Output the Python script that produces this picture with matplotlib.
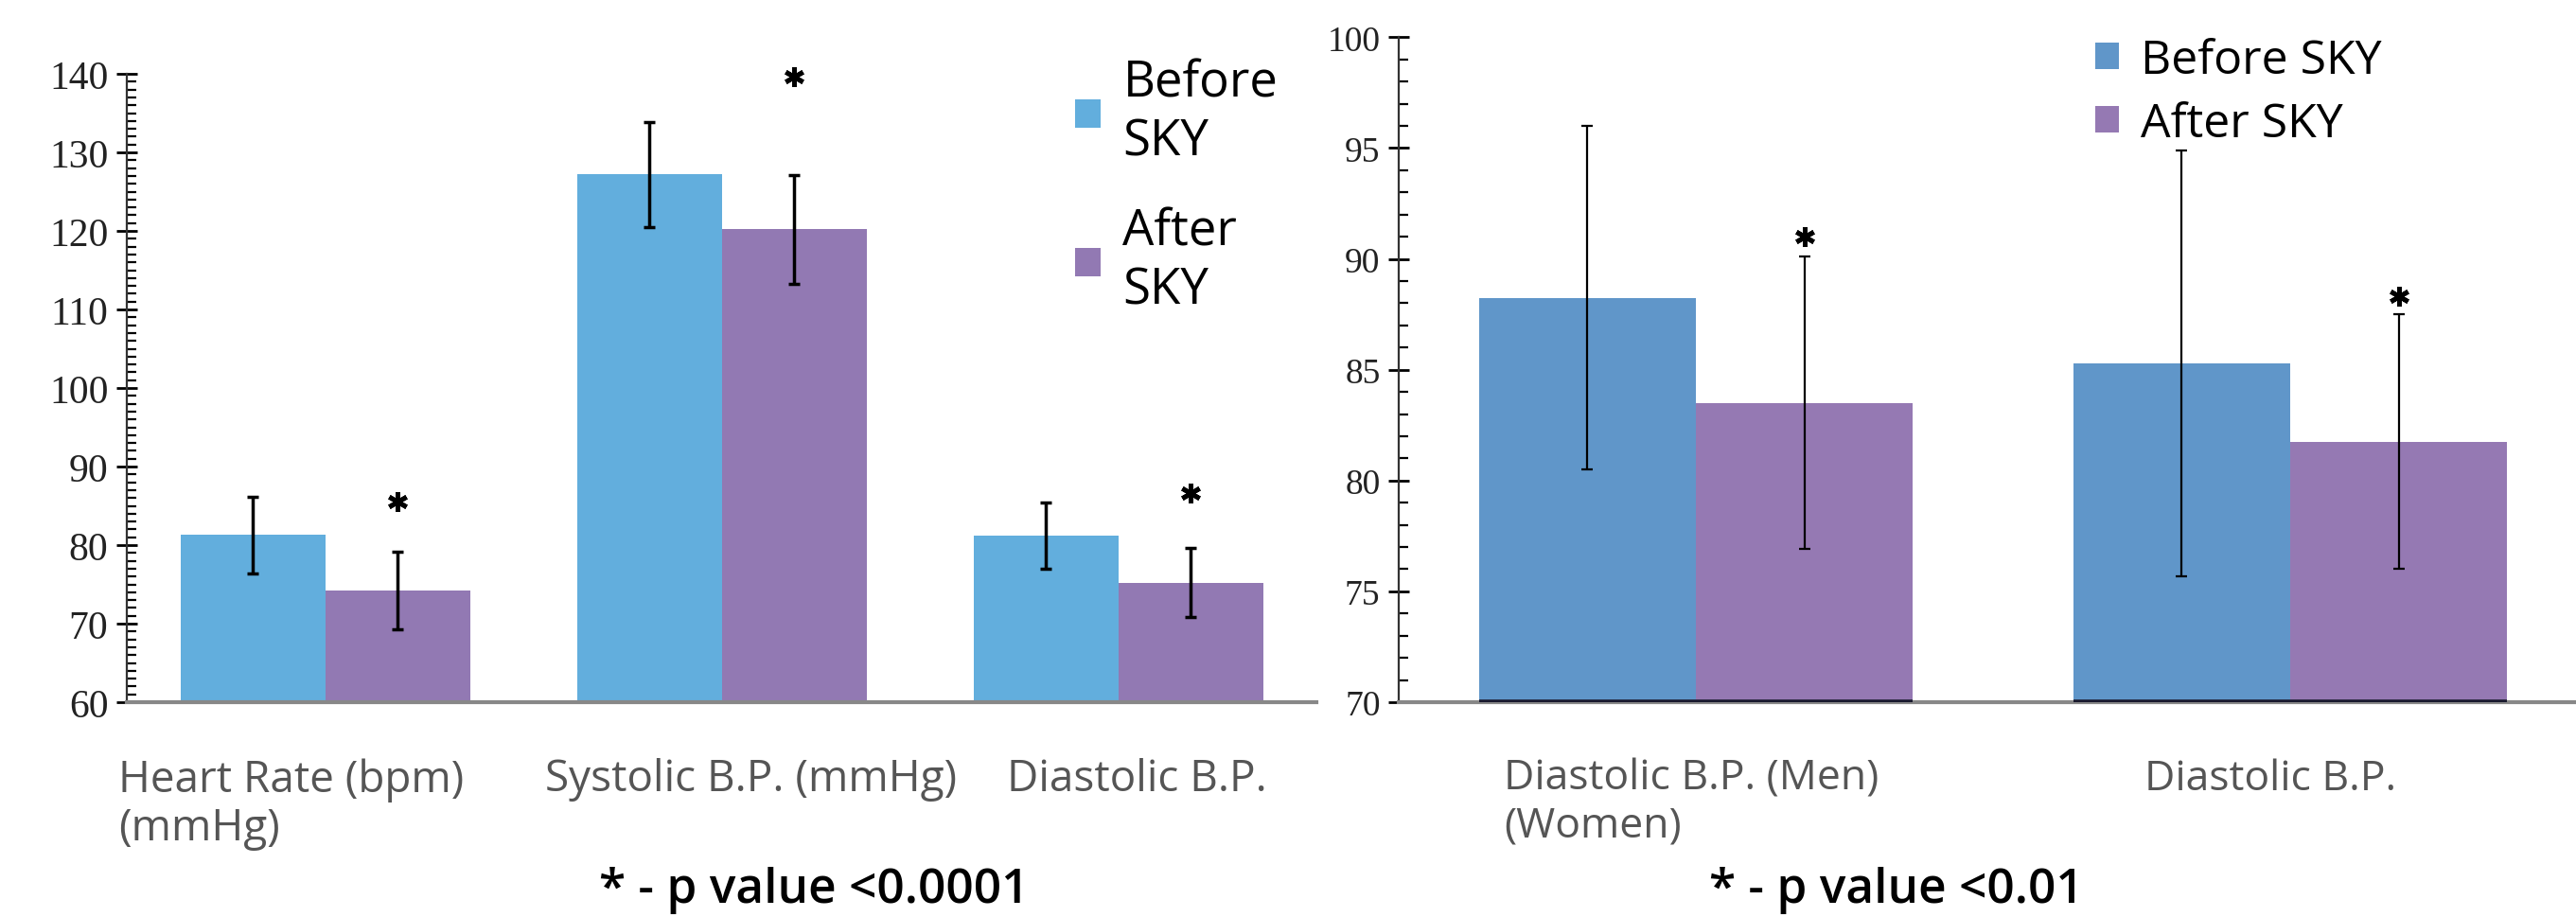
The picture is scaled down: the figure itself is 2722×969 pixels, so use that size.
import numpy as np
import matplotlib
matplotlib.use('Agg')
from matplotlib import pyplot as plt
from matplotlib.ticker import MultipleLocator
from matplotlib.transforms import ScaledTranslation, blended_transform_factory

# left panel: p < 0.0001
left_cats = ['Heart Rate (bpm)\n(mmHg)', 'Systolic B.P. (mmHg)', 'Diastolic B.P.']
left_before = [81.3, 127.2, 81.2]
left_before_err = [4.9, 6.7, 4.2]
left_after = [74.2, 120.2, 75.2]
left_after_err = [4.9, 6.9, 4.4]
left_stars = [85.6, 139.7, 86.6]

# right panel: p < 0.01
right_cats = ['Diastolic B.P. (Men)\n(Women)', 'Diastolic B.P.']
right_before = [88.25, 85.3]
right_before_err = [7.75, 9.6]
right_after = [83.5, 81.75]
right_after_err = [6.6, 5.75]
right_stars = [91.0, 88.3]

sans = ['Open Sans', 'DejaVu Sans']
serif = ['Liberation Serif', 'DejaVu Serif']

fig = plt.figure(figsize=(27.22, 9.70), dpi=100)
fig.patch.set_facecolor('white')

w = 0.365


def draw(ax, cats, before, before_err, after, after_err, stars, ymin, ymax,
         c_before, c_after, elw, tick_size, base_line, label_size, shifts):
    x = np.arange(len(cats))
    b1 = ax.bar(x - w / 2, before, w, color=c_before, zorder=2)
    b2 = ax.bar(x + w / 2, after, w, color=c_after, zorder=2)
    ax.errorbar(x - w / 2, before, yerr=before_err, fmt='none', ecolor='black',
                elinewidth=elw, capsize=4, capthick=elw, zorder=3)
    ax.errorbar(x + w / 2, after, yerr=after_err, fmt='none', ecolor='black',
                elinewidth=elw, capsize=4, capthick=elw, zorder=3)
    # significance stars
    ax.plot(x + w / 2, stars, linestyle='none', marker=(6, 2, 0), markersize=15,
            markeredgewidth=3.5, color='black', zorder=4, clip_on=False)
    if base_line:
        ax.hlines([ymin] * len(x), x - w, x + w, colors='#1a1a2e', linewidth=4,
                  zorder=4)
    ax.set_xlim(-0.5, len(cats) - 0.5)
    ax.set_ylim(ymin, ymax)
    ax.set_xticks(x)
    ax.set_xticklabels([])
    # category labels, nudged sideways like the original layout
    base = blended_transform_factory(ax.transData, ax.transAxes)
    for xi, cat, dx in zip(x, cats, shifts):
        tr = base + ScaledTranslation(dx / 100, -0.58, fig.dpi_scale_trans)
        ax.text(xi, 0, cat, transform=tr, ha='center', va='top',
                multialignment='left', family=sans, fontsize=label_size,
                color='#555555', linespacing=1.15)
    ax.tick_params(axis='x', length=0)
    ax.tick_params(axis='y', which='major', direction='inout', length=16, width=2,
                   labelsize=tick_size, labelcolor='#222222', pad=6)
    ax.tick_params(axis='y', which='minor', direction='in', length=7, width=1.6)
    ax.yaxis.set_minor_locator(MultipleLocator(1))
    for lab in ax.get_yticklabels():
        lab.set_family(serif)
    for side in ['top', 'right']:
        ax.spines[side].set_visible(False)
    ax.spines['left'].set_color('#333333')
    ax.spines['left'].set_linewidth(1.6)
    ax.spines['bottom'].set_color('#888888')
    ax.spines['bottom'].set_linewidth(3)
    return b1, b2


ax1 = fig.add_axes([0.0492, 0.234, 0.462, 0.6845])
h1 = draw(ax1, left_cats, left_before, left_before_err, left_after, left_after_err,
          left_stars, 60, 140, '#62aedd', '#9279b3', 2.5, 30, False, 33,
          [-36, 31, 19])
ax1.yaxis.set_major_locator(MultipleLocator(10))
ax1.legend(h1, ['Before\nSKY', 'After\nSKY'], loc='upper left',
           bbox_to_anchor=(0.4, 0.985), bbox_transform=fig.transFigure,
           frameon=False, prop={'family': sans, 'size': 38},
           handlelength=0.5, handleheight=0.5, handletextpad=0.45,
           labelspacing=0.8)

ax2 = fig.add_axes([0.543, 0.234, 0.4614, 0.7244])
h2 = draw(ax2, right_cats, right_before, right_before_err, right_after,
          right_after_err, right_stars, 70, 100, '#6096c9', '#9579b3', 1.6, 27,
          True, 32, [-5, -21])
ax2.yaxis.set_major_locator(MultipleLocator(5))
ax2.legend(h2, ['Before SKY', 'After SKY'], loc='upper left',
           bbox_to_anchor=(0.797, 1.005), bbox_transform=fig.transFigure,
           frameon=False, prop={'family': sans, 'size': 36},
           handlelength=0.5, handleheight=0.5, handletextpad=0.45,
           labelspacing=0.35)

fig.text(0.316, 0.004, '* - p value <0.0001', ha='center', va='bottom',
         fontsize=37, family=sans, fontweight='semibold')
fig.text(0.736, 0.004, '* - p value <0.01', ha='center', va='bottom',
         fontsize=37, family=sans, fontweight='semibold')

fig.savefig('out.png', dpi=100, facecolor='white')
